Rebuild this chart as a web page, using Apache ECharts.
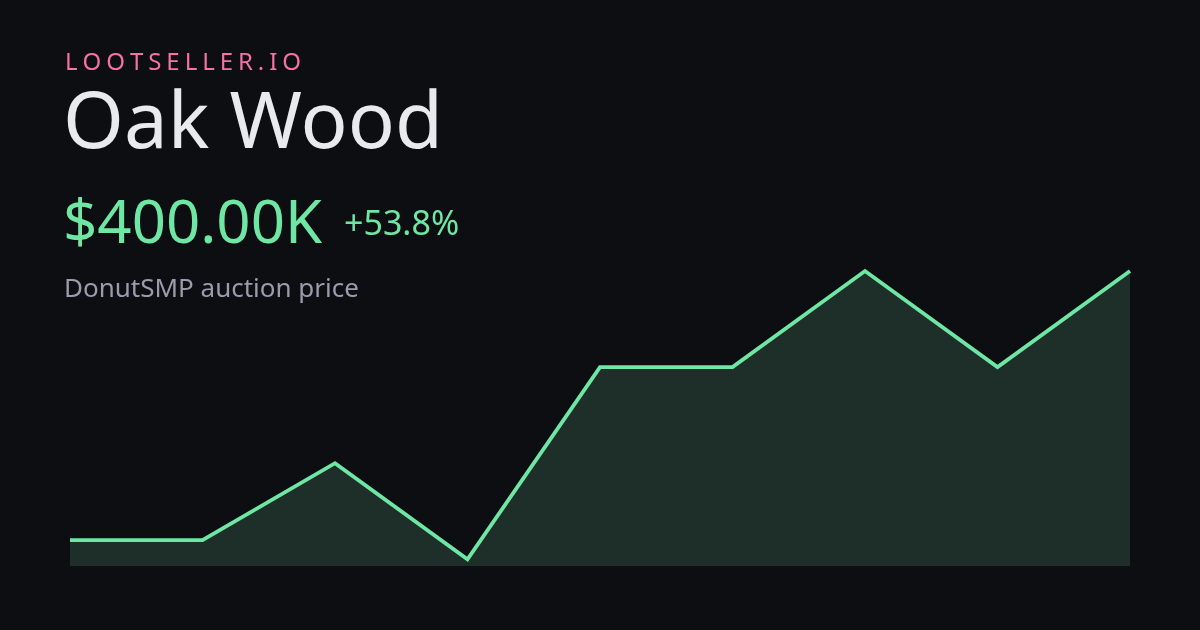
<!DOCTYPE html>
<html><head><meta charset="utf-8">
<script src="https://cdn.jsdelivr.net/npm/echarts@6/dist/echarts.min.js"></script>
<style>html,body{margin:0;padding:0;background:#0d0e11}#c{width:1200px;height:630px}</style>
</head><body><div id="c"></div>
<script>
const categories = ['1','2','3','4','5','6','7','8','9'];
const prices = [260, 260, 300, 250, 350, 350, 400, 350, 400];
const brand = 'LOOTSELLER.IO';
const itemName = 'Oak Wood';
const priceLabel = '$400.00K';
const changeLabel = '+53.8%';
const subtitle = 'DonutSMP auction price';

const font = '"Noto Sans", "Open Sans", sans-serif';
const brandFont = '400 24px ' + font;
const brandSpacing = 4.95;

// letter-spaced brand text built from per-character text elements
const ctx = document.createElement('canvas').getContext('2d');
ctx.font = brandFont;
const brandChars = [];
let bx = 0;
for (const ch of brand) {
  brandChars.push({type: 'text', x: bx, y: 0, style: {text: ch, fill: '#f472a6', font: brandFont}});
  bx += ctx.measureText(ch).width + brandSpacing;
}

const chart = echarts.init(document.getElementById('c'), null, {renderer: 'canvas'});
chart.setOption({
  backgroundColor: '#0d0e11',
  animation: false,
  grid: {left: 70, right: 70, top: 271, bottom: 64},
  xAxis: {type: 'category', data: categories, boundaryGap: false, show: false},
  yAxis: {type: 'value', min: 246.5, max: 400, show: false},
  series: [{
    type: 'line',
    data: prices,
    clip: false,
    symbol: 'none',
    lineStyle: {color: '#6ee7a5', width: 3.8, join: 'miter'},
    areaStyle: {color: '#1e2f2a', opacity: 1}
  }],
  graphic: [
    {type: 'group', left: 65, top: 51, children: brandChars},
    {type: 'text', left: 63, top: 87, style: {text: itemName, fill: '#e9eaee', font: '400 78px ' + font}},
    {type: 'text', left: 63, top: 196, style: {text: priceLabel, fill: '#6ee7a5', font: '400 60px ' + font}},
    {type: 'text', left: 344, top: 208, style: {text: changeLabel, fill: '#6ee7a5', font: '400 34px ' + font}},
    {type: 'text', left: 64, top: 277, style: {text: subtitle, fill: '#9a9cae', font: '400 26px ' + font}}
  ]
});
</script></body></html>
